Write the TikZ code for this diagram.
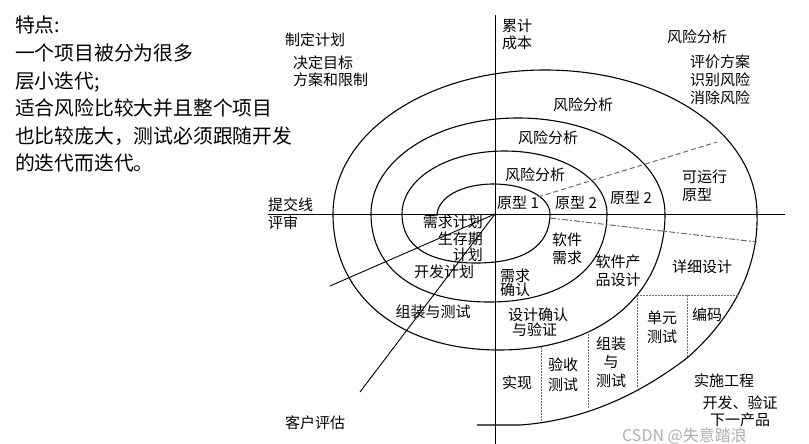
\documentclass[tikz,border=0pt]{standalone}
\usepackage{fontspec}
\setmainfont{Noto Sans CJK SC}
\usepackage{tikz}
\usepackage{xcolor}
\usetikzlibrary{positioning}
\definecolor{guidegray}{HTML}{6A6A6A}
\definecolor{markgray}{HTML}{AEAEAE}

\begin{document}
\begin{tikzpicture}[x=1pt, y=-1pt]
\tikzstyle{lbl}=[inner sep=0pt, align=center, font=\fontsize{15}{17}\selectfont]
\tikzstyle{spiral}=[line width=1.1pt]
\tikzstyle{guide}=[guidegray, line width=0.9pt, dash pattern=on 1.5pt off 1.5pt]
\useasboundingbox (0,0) rectangle (809,444);
% left notes
\node[anchor=north west, align=left, inner sep=0pt, font=\fontsize{19.8}{27.6}\selectfont] (notes) at (15,16) {特点:\\一个项目被分为很多\\层小迭代;\\适合风险比较大并且整个项目\\也比较庞大，测试必须跟随开发\\的迭代而迭代。};
% axes
\coordinate (o) at (495,214);
\coordinate (ytop) at (495,15);
\coordinate (ybot) at (495,444);
\coordinate (xleft) at (268,214);
\coordinate (xright) at (785,214);
\draw[line width=1pt] (ytop) -- (ybot);
\draw[line width=1pt] (xleft) -- (xright);
% spiral
\draw[spiral] (437,216) .. controls (437,197.2) and (461.9,184) .. (493.5,184)
  .. controls (525.1,184) and (550,197.2) .. (550,214)
  .. controls (550,245.9) and (524.1,263) .. (476,263)
  .. controls (427.9,263) and (402,245.9) .. (402,214)
  .. controls (402,178.7) and (447.1,151) .. (504.5,151)
  .. controls (561.9,151) and (607,178.7) .. (607,214)
  .. controls (607,268.6) and (562.2,302) .. (489,302)
  .. controls (415.8,302) and (371,268.6) .. (371,214)
  .. controls (371,160.2) and (435.7,118) .. (518,118)
  .. controls (600.3,118) and (665,160.2) .. (665,214)
  .. controls (665,295.6) and (598.6,350) .. (499,350)
  .. controls (399.4,350) and (333,295.6) .. (333,214)
  .. controls (333,133.4) and (426.3,70) .. (545,70)
  .. controls (663.7,70) and (757,133.4) .. (757,214)
  .. controls (759,275) and (725,325) .. (687,358)
  .. controls (645,390) and (590,420) .. (520,425) -- (477,425);
% sector lines
\draw[guidegray, line width=1pt, dash pattern=on 5pt off 3pt] (538,197) -- (717,142);
\draw[guidegray, line width=1pt, dash pattern=on 6pt off 2pt on 2pt off 2pt] (550,218) -- (757,242);
\draw[guide] (637,295) -- (738,295);
\draw[guide] (637,295) -- (637,388);
\draw[guide] (687,295) -- (687,358);
\draw[guide] (588,331) -- (588,408);
\draw[guide] (541,347) -- (541,421);
% customer evaluation lines
\coordinate (eval1) at (330,286);
\coordinate (eval2) at (360,392);
\draw[line width=0.9pt] (o) -- (eval1);
\draw[line width=0.9pt] (o) -- (eval2);
% labels
\node[lbl] (plan) at (315,40) {制定计划};
\node[lbl, anchor=west, align=left] (goal) at (293,71.5) {决定目标\\方案和限制};
\node[lbl, anchor=west, align=left] (cost) at (502,34) {累计\\成本};
\node[lbl] (risk0) at (697,37) {风险分析};
\node[lbl, anchor=west, align=left, font=\fontsize{15}{18}\selectfont] (evalrisk) at (690,80) {评价方案\\识别风险\\消除风险};
\node[lbl] (risk3) at (583,105) {风险分析};
\node[lbl] (risk2) at (548,138) {风险分析};
\node[lbl] (risk1) at (535,175) {风险分析};
\node[lbl] (proto1) at (518,203) {原型 1};
\node[lbl] (proto2a) at (576,203) {原型 2};
\node[lbl] (proto2b) at (631,198) {原型 2};
\node[lbl, anchor=west, align=left, font=\fontsize{15}{18}\selectfont] (oproto) at (682,186) {可运行\\原型};
\node[lbl, anchor=west] (submit) at (268,205) {提交线};
\node[lbl, below=3pt of submit.south west, anchor=north west] (review) {评审};
\node[lbl, anchor=east, align=right, font=\fontsize{15}{16.5}\selectfont] (reqplan) at (483,238.5) {需求计划\\生存期\\计划};
\node[lbl] (devplan) at (444,272) {开发计划};
\node[lbl, font=\fontsize{15}{14.5}\selectfont] (reqconf) at (515,283) {需求\\确认};
\node[lbl, font=\fontsize{15}{18}\selectfont] (swreq) at (567,249) {软件\\需求};
\node[lbl, font=\fontsize{15}{18}\selectfont] (prodesign) at (618,271) {软件产\\品设计};
\node[lbl] (detdesign) at (702,267) {详细设计};
\node[lbl] (integ) at (433,312) {组装与测试};
\node[lbl, anchor=west, align=left, font=\fontsize{15}{15.5}\selectfont] (desconf) at (508,322) {设计确认\\\hspace{4pt}与验证};
\node[lbl] (impl) at (517,383) {实现};
\node[lbl, font=\fontsize{15}{20}\selectfont] (accept) at (563,375) {验收\\测试};
\node[lbl, font=\fontsize{15}{18.5}\selectfont] (integtest) at (611,362) {组装\\与\\测试};
\node[lbl, font=\fontsize{15}{19}\selectfont] (unittest) at (662,327) {单元\\测试};
\node[lbl] (coding) at (707,315) {编码};
\node[lbl] (engineer) at (724,381) {实施工程};
\node[lbl, font=\fontsize{15}{17}\selectfont] (nextprod) at (740,411) {开发、验证\\下一产品};
\node[lbl] (custeval) at (315,423) {客户评估};
\node[anchor=west, inner sep=0pt, text=markgray, font=\fontsize{16}{18}\selectfont] (wm) at (622,436) {CSDN @失意踏浪};
\end{tikzpicture}
\end{document}
